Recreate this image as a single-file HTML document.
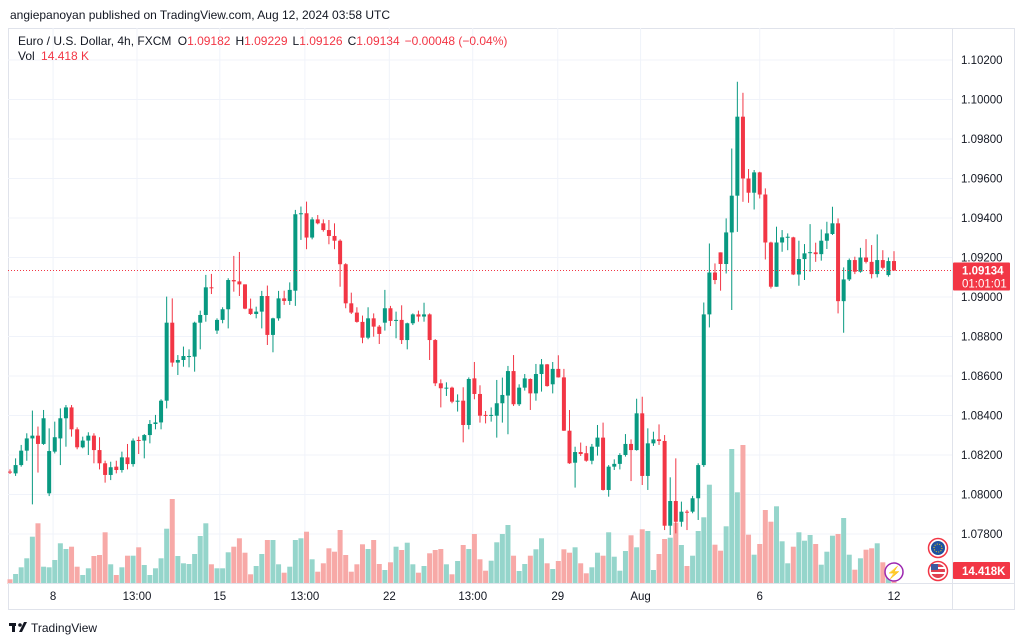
<!DOCTYPE html>
<html><head><meta charset="utf-8">
<style>
html,body{margin:0;padding:0;background:#fff;width:1024px;height:643px;overflow:hidden;font-family:"Liberation Sans",sans-serif;}
svg text{font-family:"Liberation Sans",sans-serif;}
</style></head>
<body>
<svg id="chart" width="1024" height="643" viewBox="0 0 1024 643" xmlns="http://www.w3.org/2000/svg">
<text x="10" y="19" font-size="12" fill="#131722">angiepanoyan published on TradingView.com, Aug 12, 2024 03:58 UTC</text>
<rect x="8.5" y="28.5" width="1006" height="581" fill="none" stroke="#e0e3eb"/>
<g id="grid"></g>
<g id="vols"></g>
<g id="candles"></g>
<line x1="8" y1="583.5" x2="1014" y2="583.5" stroke="#e0e3eb"/>
<line x1="952.5" y1="28" x2="952.5" y2="609" stroke="#e0e3eb"/>
<g id="yaxis"></g>
<g id="xaxis"></g>
<text x="18" y="45" font-size="12" fill="#131722">Euro / U.S. Dollar, 4h, FXCM <tspan dx="3">O</tspan><tspan fill="#f23645">1.09182</tspan><tspan dx="5">H</tspan><tspan fill="#f23645">1.09229</tspan><tspan dx="5">L</tspan><tspan fill="#f23645">1.09126</tspan><tspan dx="5">C</tspan><tspan fill="#f23645">1.09134</tspan><tspan dx="5" fill="#f23645">−0.00048 (−0.04%)</tspan></text>
<text x="18" y="60" font-size="12" fill="#131722">Vol <tspan dx="3" fill="#f23645">14.418 K</tspan></text>
<line id="lastline" x1="8" x2="952" stroke="#f23645" stroke-dasharray="1,2"/>
<g><rect id="lastbox" x="953" width="57" height="28" fill="#f23645" rx="1"/>
<text id="lasttxt1" x="962" font-size="11.5" fill="#fff" font-weight="bold">1.09134</text>
<text id="lasttxt2" x="962" font-size="11.5" fill="#fff">01:01:01</text></g>
<g><rect x="953" y="562" width="57" height="17" fill="#f23645" rx="1"/><text x="962" y="575" font-size="11.5" fill="#fff" font-weight="bold">14.418K</text></g>
<g><circle cx="938" cy="548" r="9.5" fill="#fff" stroke="#f23645" stroke-width="1.5"/><circle cx="938" cy="548" r="7" fill="#1e50a0"/><circle cx="938" cy="548" r="4" fill="none" stroke="#ffd500" stroke-width="1" stroke-dasharray="1,1.5"/></g>
<g><circle cx="938" cy="571" r="9.5" fill="#fff" stroke="#f23645" stroke-width="1.5"/><circle cx="938" cy="571" r="7" fill="#e04050"/><rect x="931" y="567" width="14" height="2" fill="#fff"/><rect x="931" y="572" width="14" height="2" fill="#fff"/><rect x="931" y="564" width="7" height="6" fill="#3c5aa0"/></g>
<g><circle cx="894" cy="572" r="9" fill="#fff" stroke="#9c27b0" stroke-width="1.5"/><text x="894" y="576.5" font-size="12" text-anchor="middle" fill="#9c27b0">⚡</text></g>
<g><rect x="9" y="623" width="7" height="3" fill="#131722"/><rect x="12" y="623" width="3" height="9" fill="#131722"/><circle cx="20" cy="625" r="1.8" fill="#131722"/><path d="M19 632 L24 622 L27 622 L22 632 Z" fill="#131722"/>
<text x="31" y="632" font-size="12" fill="#131722">TradingView</text></g>
</svg>
<script>
const opens=[1.08116,1.08107,1.08149,1.08222,1.08284,1.08298,1.08256,1.08006,1.08217,1.08284,1.08386,1.08441,1.08330,1.08239,1.08273,1.08298,1.08225,1.08158,1.08099,1.08141,1.08124,1.08188,1.08154,1.08276,1.08273,1.08301,1.08357,1.08365,1.08475,1.08870,1.08668,1.08681,1.08698,1.08698,1.08870,1.08909,1.09049,1.08830,1.08884,1.08938,1.09086,1.09079,1.09064,1.08941,1.08914,1.08926,1.09005,1.08808,1.08892,1.08993,1.08980,1.09032,1.09419,1.09424,1.09301,1.09393,1.09373,1.09339,1.09309,1.09285,1.09166,1.08968,1.08921,1.08874,1.08794,1.08892,1.08850,1.08870,1.08943,1.08879,1.08884,1.08782,1.08867,1.08912,1.08901,1.08912,1.08782,1.08563,1.08538,1.08541,1.08474,1.08475,1.08352,1.08588,1.08509,1.08403,1.08399,1.08399,1.08462,1.08501,1.08625,1.08457,1.08541,1.08585,1.08512,1.08610,1.08659,1.08558,1.08636,1.08593,1.08323,1.08161,1.08215,1.08209,1.08171,1.08242,1.08288,1.08023,1.08141,1.08155,1.08200,1.08256,1.08225,1.08411,1.08094,1.08259,1.08279,1.08271,1.07842,1.07967,1.07862,1.07913,1.07913,1.07981,1.08149,1.08912,1.09124,1.09226,1.09167,1.09327,1.09513,1.09913,1.09600,1.09528,1.09631,1.09519,1.09276,1.09052,1.09276,1.09302,1.09302,1.09114,1.09192,1.09224,1.09226,1.09217,1.09285,1.09319,1.09373,1.08979,1.09089,1.09187,1.09128,1.09200,1.09178,1.09116,1.09187,1.09111,1.09182];
const closes=[1.08111,1.08149,1.08222,1.08284,1.08298,1.08256,1.08386,1.08220,1.08290,1.08386,1.08441,1.08330,1.08239,1.08273,1.08298,1.08225,1.08158,1.08099,1.08138,1.08124,1.08188,1.08154,1.08273,1.08273,1.08301,1.08357,1.08365,1.08475,1.08870,1.08668,1.08681,1.08701,1.08701,1.08870,1.08909,1.09049,1.09044,1.08884,1.08938,1.09086,1.09079,1.09064,1.08941,1.08914,1.08926,1.09005,1.08808,1.08892,1.08993,1.08980,1.09036,1.09419,1.09424,1.09301,1.09393,1.09373,1.09339,1.09309,1.09285,1.09166,1.08968,1.08921,1.08874,1.08794,1.08892,1.08850,1.08813,1.08943,1.08879,1.08884,1.08782,1.08867,1.08912,1.08901,1.08912,1.08782,1.08563,1.08538,1.08541,1.08470,1.08475,1.08352,1.08585,1.08509,1.08399,1.08401,1.08403,1.08462,1.08504,1.08625,1.08457,1.08541,1.08588,1.08512,1.08610,1.08659,1.08549,1.08636,1.08593,1.08323,1.08158,1.08215,1.08205,1.08171,1.08242,1.08288,1.08023,1.08141,1.08155,1.08200,1.08256,1.08225,1.08411,1.08094,1.08259,1.08279,1.08271,1.07842,1.07967,1.07862,1.07913,1.07911,1.07981,1.08149,1.08912,1.09124,1.09086,1.09167,1.09327,1.09513,1.09913,1.09600,1.09528,1.09631,1.09519,1.09276,1.09052,1.09276,1.09302,1.09305,1.09114,1.09192,1.09221,1.09227,1.09217,1.09285,1.09322,1.09373,1.08979,1.09089,1.09187,1.09128,1.09200,1.09178,1.09116,1.09187,1.09148,1.09182,1.09134];
const highs=[1.08127,1.08183,1.08251,1.08310,1.08425,1.08344,1.08428,1.08335,1.08369,1.08436,1.08453,1.08453,1.08340,1.08293,1.08315,1.08310,1.08290,1.08171,1.08166,1.08171,1.08217,1.08256,1.08284,1.08293,1.08306,1.08377,1.08403,1.08482,1.09002,1.08993,1.08706,1.08749,1.08735,1.08875,1.08931,1.09112,1.09117,1.08892,1.08948,1.09095,1.09208,1.09228,1.09064,1.08992,1.08951,1.09031,1.09058,1.08895,1.09031,1.09032,1.09074,1.09441,1.09458,1.09483,1.09404,1.09415,1.09393,1.09390,1.09373,1.09292,1.09171,1.09022,1.08948,1.08906,1.08948,1.08917,1.08858,1.09036,1.08955,1.08926,1.08958,1.08870,1.08917,1.08931,1.08971,1.08917,1.08787,1.08583,1.08568,1.08546,1.08507,1.08543,1.08593,1.08671,1.08553,1.08423,1.08441,1.08580,1.08592,1.08651,1.08706,1.08558,1.08610,1.08588,1.08661,1.08686,1.08661,1.08671,1.08705,1.08636,1.08428,1.08242,1.08263,1.08246,1.08256,1.08352,1.08364,1.08149,1.08178,1.08209,1.08306,1.08279,1.08485,1.08495,1.08335,1.08318,1.08355,1.08301,1.08087,1.08183,1.07964,1.07922,1.07993,1.08158,1.08972,1.09271,1.09170,1.09226,1.09398,1.09752,1.10090,1.10034,1.09648,1.09643,1.09634,1.09550,1.09280,1.09356,1.09339,1.09322,1.09305,1.09285,1.09268,1.09369,1.09275,1.09342,1.09381,1.09457,1.09398,1.09150,1.09195,1.09204,1.09249,1.09293,1.09263,1.09317,1.09237,1.09200,1.09232];
const lows=[1.08104,1.08094,1.08141,1.08171,1.07950,1.08111,1.08251,1.07992,1.08208,1.08149,1.08242,1.08293,1.08229,1.08234,1.08200,1.08158,1.08127,1.08060,1.08073,1.08107,1.08111,1.08127,1.08141,1.08205,1.08183,1.08259,1.08330,1.08330,1.08436,1.08647,1.08605,1.08647,1.08644,1.08622,1.08735,1.08875,1.09015,1.08813,1.08867,1.08841,1.09027,1.09005,1.08938,1.08909,1.08892,1.08841,1.08757,1.08720,1.08880,1.08960,1.08960,1.08955,1.09289,1.09242,1.09292,1.09368,1.09331,1.09267,1.09242,1.09052,1.08943,1.08914,1.08870,1.08766,1.08786,1.08799,1.08762,1.08830,1.08853,1.08791,1.08762,1.08735,1.08858,1.08875,1.08875,1.08681,1.08549,1.08441,1.08499,1.08462,1.08420,1.08264,1.08330,1.08482,1.08364,1.08360,1.08369,1.08288,1.08364,1.08305,1.08448,1.08448,1.08526,1.08428,1.08475,1.08521,1.08546,1.08512,1.08592,1.08322,1.08155,1.08035,1.08195,1.08166,1.08153,1.08197,1.08020,1.07989,1.08124,1.08127,1.08192,1.08068,1.08222,1.08048,1.08023,1.08246,1.08251,1.07820,1.07795,1.07803,1.07837,1.07820,1.07905,1.07871,1.08140,1.08846,1.09065,1.09032,1.09119,1.08934,1.09330,1.09482,1.09477,1.09443,1.09499,1.09190,1.09043,1.09052,1.09229,1.09237,1.09111,1.09057,1.09086,1.09128,1.09178,1.09184,1.09243,1.09314,1.08917,1.08819,1.09081,1.09116,1.09123,1.09170,1.09094,1.09099,1.09140,1.09103,1.09133];
const volumes=[4.7,10,16.7,25.7,47.3,60.7,17.3,16.7,24,40.7,35,37.3,17.3,9,15.7,28,29,51.7,19.7,9,16.7,28.3,28.3,36.7,19,9,15.7,25.7,55.3,85,28,20.7,20,30,48,60.7,19.7,15.7,15.7,31.7,37.3,45.7,31.3,9.7,18,30,44,44,19.7,11.3,17.3,44,45.7,52.3,24.7,12.3,20.7,35.7,32.3,54,29,12.3,19.7,39.7,35,44,20,14,21.7,37.3,34,41.3,19.7,11.3,18,30.7,34,35,19.7,9.7,23,39,35,50,24.7,13.3,23.3,41.7,50,59,28.3,13,20,28.3,34.7,45.7,20.7,15,23,34.7,31.3,36.7,20.7,10.7,16.7,31.3,28.3,51.7,27.3,13.3,33,48.7,36.7,54.7,53,14,30,45,46.3,61.3,39,18,28.3,53,66.7,99.3,39.3,33.3,57.7,135,91.7,139,49.3,29.3,40,74,62.3,77.7,42.7,20.7,37.3,51.7,43.3,49,40,19.3,32.3,48.3,50,66,29.3,14.3,25.7,34.3,35.7,40.7,21.7,6.7,5];
const priceTicks=[1.078,1.080,1.082,1.084,1.086,1.088,1.090,1.092,1.094,1.096,1.098,1.100,1.102];
const timeLabels=["8","13:00","15","13:00","22","13:00","29","Aug","6","12"];
const timeLabelIndex=[7.7,22.7,37.5,52.7,67.8,82.7,97.9,112.7,134,158];
const lastPrice=1.09134;

const NS="http://www.w3.org/2000/svg";
function yP(p){return 60+(1.102-p)/0.002*39.5;}
function xI(i){return 10+i*5.595;}
function yV(v){return 584-v;}
function mk(tag,attrs,parent){const e=document.createElementNS(NS,tag);for(const k in attrs)e.setAttribute(k,attrs[k]);parent.appendChild(e);return e;}
const grid=document.getElementById('grid'),yaxis=document.getElementById('yaxis'),xaxis=document.getElementById('xaxis');
priceTicks.forEach(p=>{
  const l=mk('line',{x1:8,x2:952,y1:yP(p),y2:yP(p),stroke:'#f0f3fa'},grid);
  
  
  const t=mk('text',{x:961,y:yP(p)+4,'font-size':11.5,fill:'#131722'},yaxis);
  t.textContent=p.toFixed(5);
  
  
});
timeLabels.forEach((s,k)=>{
  const x=xI(timeLabelIndex[k]);
  const l=mk('line',{x1:x,x2:x,y1:28,y2:583,stroke:'#f0f3fa'},grid);
  
  
  const t=mk('text',{x:x,y:600,'font-size':11.5,fill:'#131722','text-anchor':'middle'},xaxis);
  t.textContent=s;
  
  
});
const vg=document.getElementById('vols'),cg=document.getElementById('candles');
volumes.forEach((v,i)=>{
  const up=closes[i]>=opens[i];
  const r=mk('rect',{x:xI(i)-2.5,y:yV(v),width:5,height:v,fill:up?'#95d5cb':'#f7a9a7'},vg);
  
  
});
opens.forEach((o,i)=>{
  const c=closes[i],up=c>=o,col=up?'#089981':'#f23645',x=xI(i);
  const w=mk('line',{x1:x,x2:x,y1:yP(highs[i]),y2:yP(lows[i]),stroke:col,'stroke-width':1},cg);
  
  
  const top=Math.min(yP(o),yP(c)),h=Math.max(1,Math.abs(yP(o)-yP(c)));
  const b=mk('rect',{x:x-2,y:top,width:4,height:h,fill:col},cg);
  
  
});
const ly=yP(lastPrice);
const ll=document.getElementById('lastline');ll.setAttribute('y1',ly);ll.setAttribute('y2',ly);
document.getElementById('lastbox').setAttribute('y',ly-8);
document.getElementById('lasttxt1').setAttribute('y',ly+4);
document.getElementById('lasttxt2').setAttribute('y',ly+17);
</script>
</body></html>
